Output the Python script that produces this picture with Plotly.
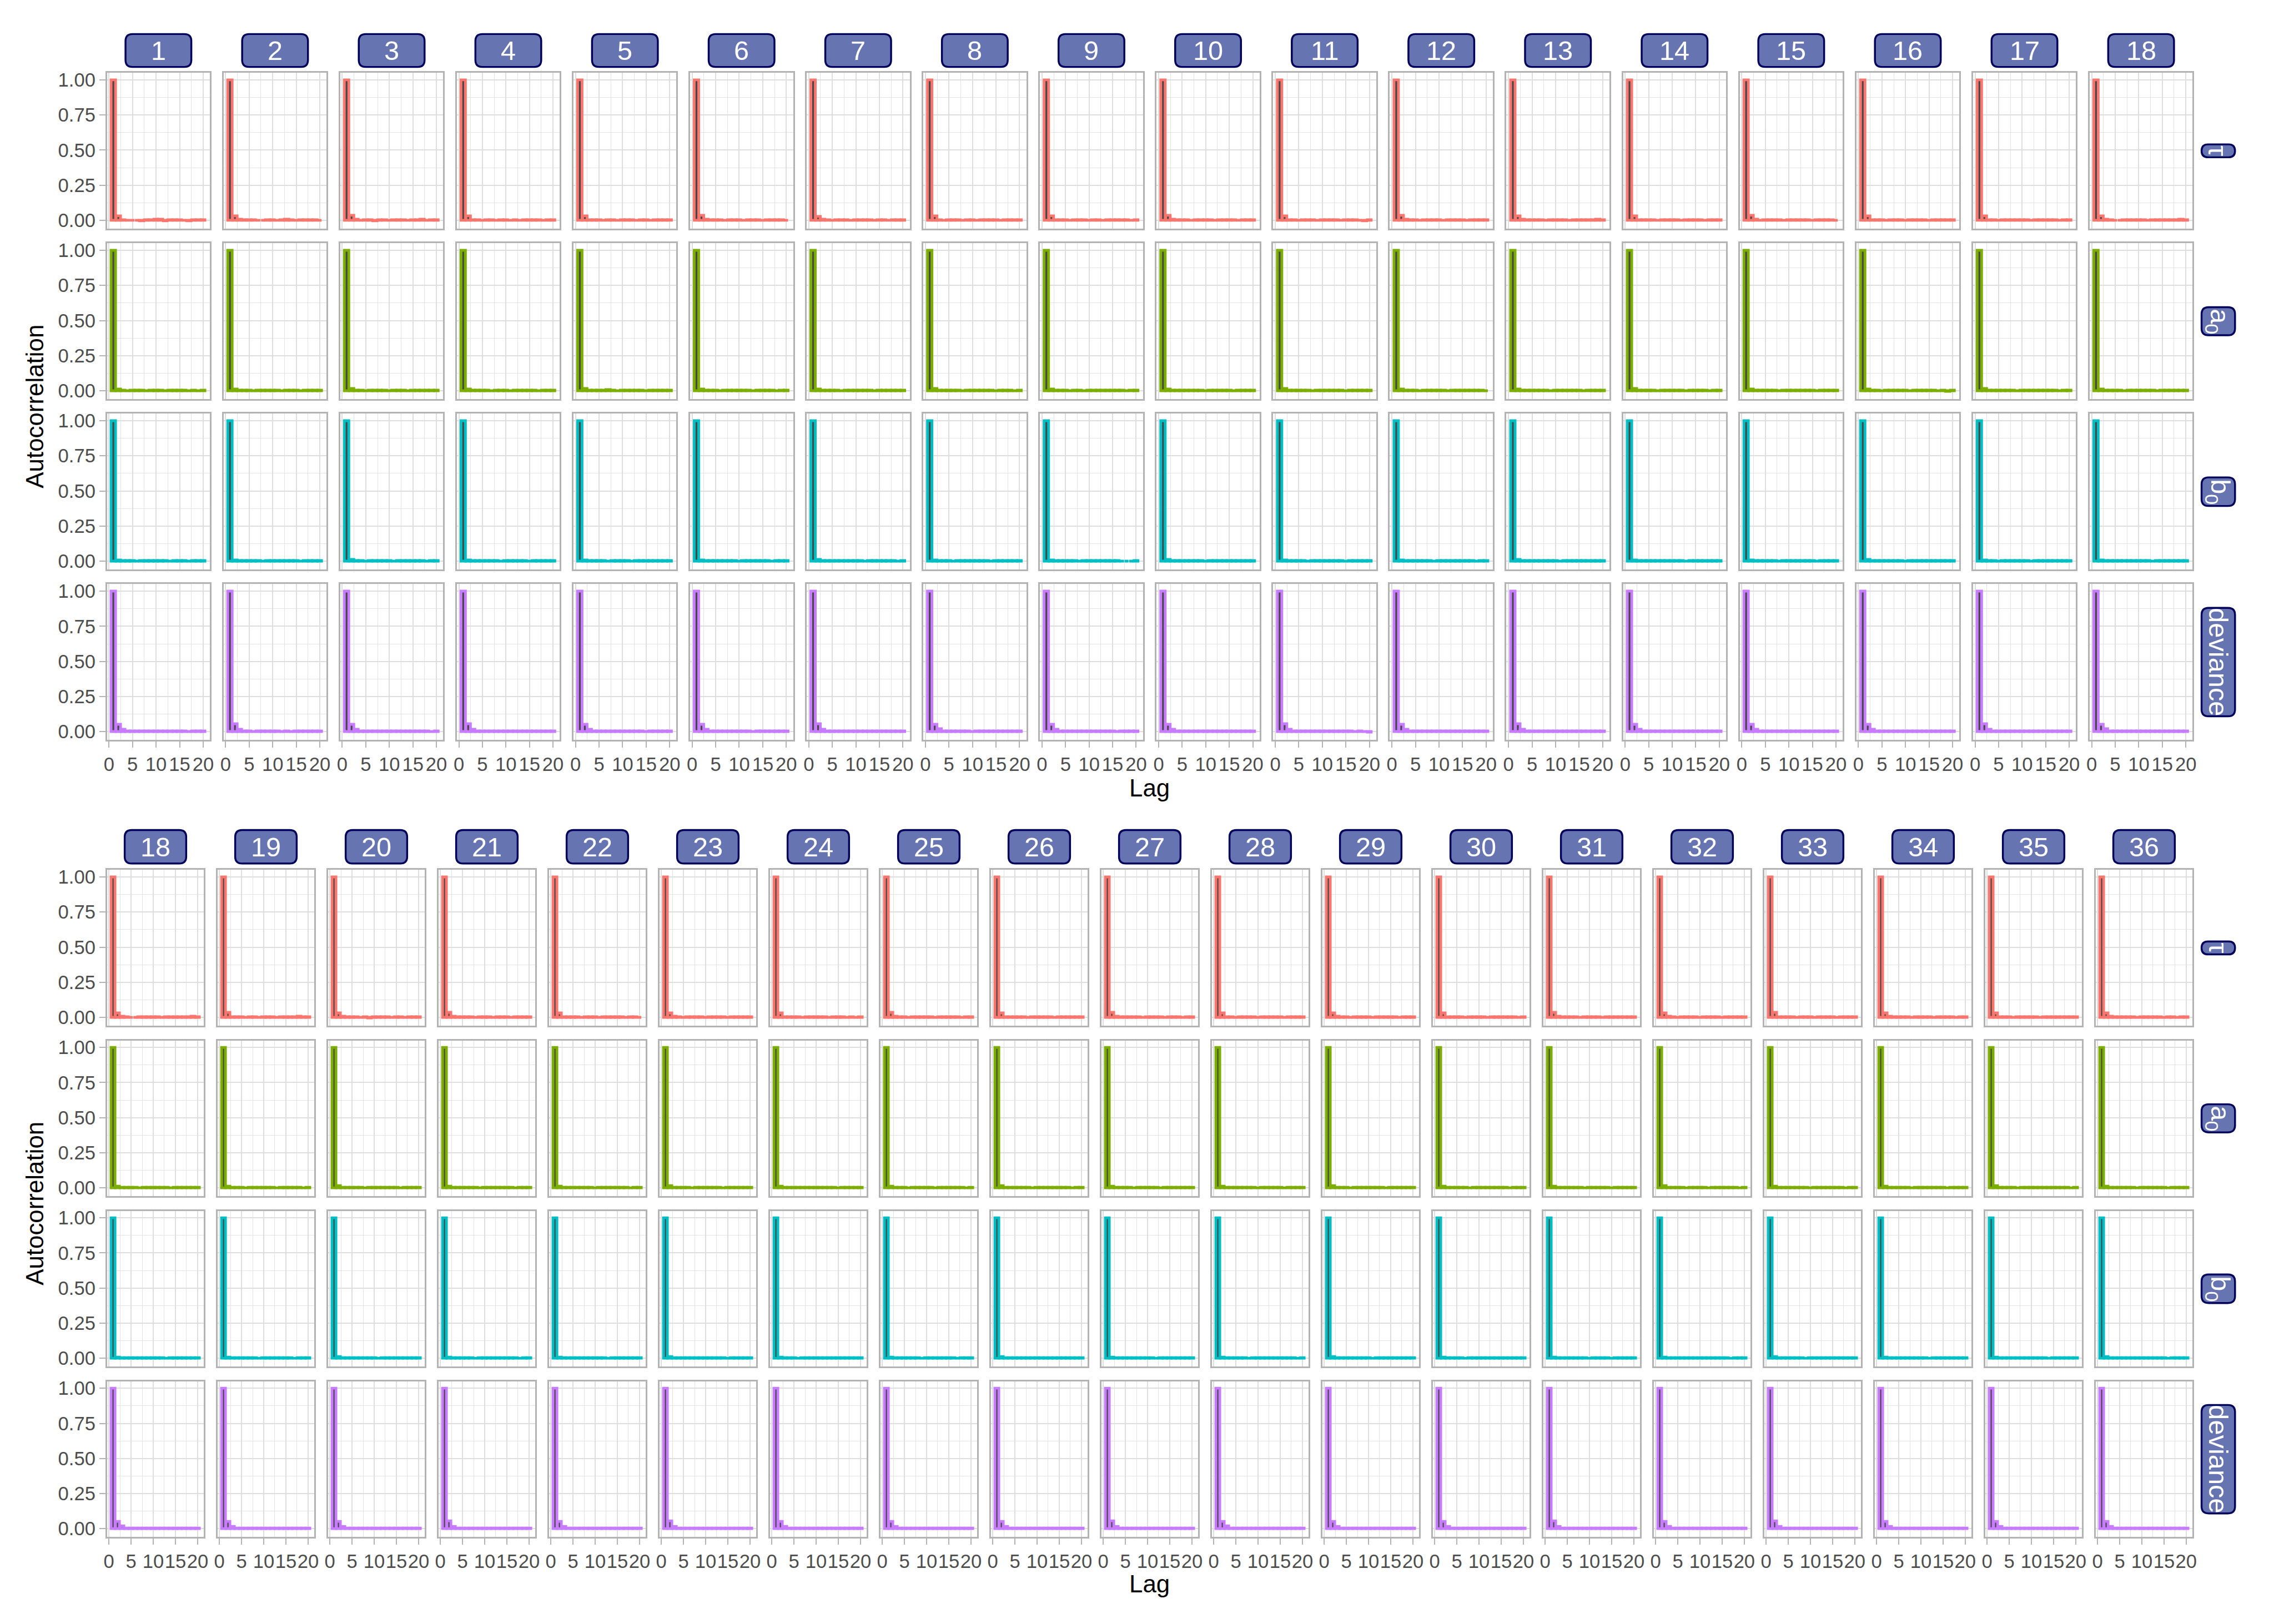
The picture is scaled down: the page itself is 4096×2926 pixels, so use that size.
import plotly.graph_objects as go

S = 0.975
W, H = 4096, 2926

lags = list(range(1, 21))
param_labels = ["τ", "a<sub>0</sub>", "b<sub>0</sub>", "deviance"]
param_colors = ["#F8766D", "#7CAE00", "#00BFC4", "#C77CFF"]
top_chains = list(range(1, 19))
bottom_chains = list(range(18, 37))
x_range = [-0.445, 21.445]
y_range = [-0.06, 1.05]

# autocorrelation per chain (index 0 = chain 1), lags 1..20
acf_tau = [
    [1,.032,.004,-.003,-.002,-.002,-.006,.001,.002,.008,.006,-.004,.001,.002,.003,-.001,-.007,.003,.002,.001],
    [1,.030,.006,.002,.001,.003,-.002,-.001,.004,.001,-.002,.003,.005,.002,-.001,.004,.003,.002,.001,-.001],
    [1,.034,.005,-.002,.001,.002,-.004,.003,.001,-.003,.002,.004,.001,-.002,.003,.001,.005,-.001,.002,.003],
    [1,.029,.003,.001,-.003,.002,.001,-.002,.003,.004,-.001,.002,-.003,.001,.002,.004,.001,-.002,.001,.002],
    [1,.031,.004,.002,.001,-.002,.003,.001,-.001,.002,.003,.001,-.002,.004,.002,-.001,.001,.003,.002,.001],
    [1,.033,.006,.001,.003,.002,-.001,.002,.004,.001,-.002,.001,.003,.002,-.003,.001,.002,.004,.001,-.002],
    [1,.028,.005,.002,-.001,.003,.001,.002,-.002,.003,.001,.004,.002,-.001,.002,.001,-.002,.003,.002,.001],
    [1,.030,.004,-.001,.002,.001,.003,-.002,.001,.002,-.003,.001,.002,.003,.001,-.001,.002,.001,.003,.002],
    [1,.032,.003,.002,.001,-.002,.001,.004,.002,-.001,.002,.003,-.002,.001,.002,.003,.001,.002,-.001,.001],
    [1,.035,.005,.001,.002,.003,-.002,.001,.003,.002,.001,-.003,.002,.004,.001,.002,-.001,.002,.001,.003],
    [1,.031,.004,.002,-.002,.001,.003,.002,-.001,.001,.004,.002,.001,-.002,.003,.001,.002,-.003,-.004,.001],
    [1,.033,.006,.003,.001,-.001,.002,.004,.001,.002,-.002,.001,.003,.002,.001,-.002,.003,.001,.002,.001],
    [1,.030,.005,.001,.003,.002,.001,-.002,.004,.001,.002,.003,-.001,.002,.001,.003,.002,.004,.006,.002],
    [1,.029,.004,.002,.001,.003,-.001,.002,.001,.003,.002,-.002,.001,.002,.003,.001,-.001,.002,.001,.002],
    [1,.034,.005,-.001,.002,.001,.002,.003,-.002,.001,.002,.001,.004,.002,-.001,.002,.001,.003,.002,-.001],
    [1,.031,.003,.002,.003,-.002,.001,.002,.001,-.001,.003,.002,.001,.002,-.002,.001,.003,.002,.001,.002],
    [1,.032,.004,.001,-.001,.002,.003,.001,.002,.004,.001,-.002,.002,.001,.003,.002,.004,-.001,.002,.001],
    [1,.030,.005,.002,-.002,-.003,.001,.002,.001,.003,.002,-.001,.002,.003,.001,.002,.003,.002,.005,.002],
    [1,.033,.004,.001,.002,-.001,.003,.002,-.002,.001,.003,.001,-.003,.002,.001,.002,.004,.006,.003,.002],
    [1,.031,.005,.002,.001,.003,-.002,.001,-.004,.002,.004,.001,.002,-.001,.003,.001,-.002,.001,.002,.001],
    [1,.034,.006,.003,.002,.001,.003,-.002,.001,.002,.001,-.003,.002,.001,.003,-.001,.002,.001,.003,.002],
    [1,.029,.004,.001,.003,.002,-.001,.002,.003,.001,-.002,.001,.004,.002,.001,.002,-.001,.003,.001,-.002],
    [1,.032,.005,.002,-.001,.001,.002,.003,.001,-.002,.002,.001,.003,.002,-.001,.001,.002,.004,.002,.001],
    [1,.030,.004,.003,.001,.002,-.002,.001,.002,.003,.001,.002,-.001,.001,.003,.002,-.002,.001,-.003,.002],
    [1,.033,.005,.001,.002,-.001,.003,.002,.001,.004,.002,-.002,.001,.002,.001,.003,.002,-.001,.002,.001],
    [1,.031,.003,.002,.001,.003,.001,-.002,.002,.001,.003,.002,.001,-.002,.002,.004,.001,.002,.001,.003],
    [1,.035,.006,.002,.003,.001,.002,.001,-.002,.003,.002,.001,.003,-.001,.002,.001,.002,-.003,.001,.002],
    [1,.030,.004,.001,-.002,.002,.001,.003,.002,-.001,.001,.002,.004,.001,.002,-.002,.001,.002,.003,.001],
    [1,.032,.005,.003,.001,-.002,.002,.001,.003,.002,-.001,.002,.001,.003,.002,.001,-.002,.001,.002,.003],
    [1,.031,.004,.002,.001,.002,-.001,.003,.001,.002,.003,-.002,.001,.002,.001,.003,.002,.001,-.001,.002],
    [1,.034,.006,.001,.002,.003,.001,-.002,.002,.001,.004,.002,-.001,.002,.003,.001,.002,.001,.003,.001],
    [1,.029,.005,.002,-.001,.001,.003,.002,.001,-.002,.002,.001,.003,.001,-.003,.002,.001,.004,.002,.001],
    [1,.033,.004,.001,.002,.001,-.002,.003,.002,.001,-.001,.003,.002,.001,.002,-.002,.001,.002,.004,.002],
    [1,.030,.005,.003,.001,.002,.001,-.001,.002,.004,.001,.002,-.002,.001,.003,.002,.001,-.001,.002,.001],
    [1,.032,.004,.002,.003,-.001,.002,.001,.003,.002,.001,-.003,.002,.001,.002,.004,.001,.002,.001,.002],
    [1,.031,.006,.001,.002,.001,.003,.002,-.002,.001,.004,.002,.001,.002,-.003,.001,.002,-.002,.001,.002],
]

acf_a0 = [
    [1,.012,.002,-.001,.001,.002,.003,-.002,.001,.002,.001,-.001,.002,.001,.003,.001,-.002,.001,-.003,.001],
    [1,.011,.003,.002,.001,-.001,.002,.001,.003,.001,.002,-.001,.001,.002,.001,-.002,.001,.002,.001,.002],
    [1,.013,.001,.002,-.002,.001,.002,.003,.001,-.001,.002,.001,.002,-.001,.001,.002,.003,.001,.002,.001],
    [1,.010,.002,.001,.002,.003,-.001,.001,.002,.001,-.002,.002,.001,.003,.001,.002,-.001,.001,.002,.001],
    [1,.014,.003,.001,.002,.004,.006,.002,-.001,.001,.002,.001,.003,.001,-.002,.001,.002,.001,.001,.002],
    [1,.012,.002,.003,.001,-.002,.001,.002,.001,.003,.002,.001,-.001,.002,.001,.002,.001,-.002,.001,.002],
    [1,.011,.004,.002,.001,.002,-.001,.003,.001,.002,.001,.002,.001,-.002,.002,.001,.003,.001,.002,.001],
    [1,.013,.002,.001,.003,.001,.002,-.001,.002,.001,.003,.001,.002,.001,-.001,.002,.001,.002,-.002,.001],
    [1,.012,.001,.002,.001,-.002,.001,.002,-.003,.001,.002,.001,.002,.001,.003,.001,.002,-.001,.001,.002],
    [1,.010,.003,.001,.002,.001,.003,.001,.002,-.001,.001,.002,.001,.003,.001,-.002,.001,.002,.001,.001],
    [1,.014,.002,.003,.001,.002,.001,-.001,.002,.001,.002,.004,.001,.002,-.001,.001,.002,.001,.002,.001],
    [1,.012,.003,.001,.002,-.001,.002,.001,.003,.002,.001,-.002,.001,.002,.001,.003,.001,.002,.001,-.001],
    [1,.011,.002,.002,.001,.003,.001,.002,-.002,.001,.002,.001,.003,.001,.002,-.001,.002,.001,.003,.001],
    [1,.013,.001,.003,.002,.001,-.001,.002,.001,.002,.001,.003,-.001,.002,.001,.002,.001,-.002,.001,.002],
    [1,.012,.003,.001,.002,.001,.002,-.002,.001,.003,.002,.001,.002,.004,.001,-.001,.002,.001,.002,.001],
    [1,.011,.002,.002,-.001,.002,.001,.003,.002,.001,-.001,.002,.001,.002,.001,.003,-.002,.004,-.006,.001],
    [1,.013,.003,.001,.002,.001,.003,.001,-.001,.002,.001,.002,.003,.001,.002,.001,.001,-.002,.001,.002],
    [1,.012,.002,.003,.001,.002,-.001,.001,.002,.001,.003,.001,.002,-.001,.001,.002,.001,.002,.001,.001],
    [1,.011,.002,.001,.002,-.001,.001,.002,.001,.003,.001,.002,-.002,.001,.002,.001,.003,.001,-.001,.001],
    [1,.013,.003,.002,.001,.002,.001,-.002,.002,.001,.002,.001,.003,.002,.001,-.001,.002,.001,.002,.001],
    [1,.012,.001,.002,.003,.001,.002,.001,-.001,.002,.001,.003,.001,.002,.001,.002,-.002,.001,.002,.003],
    [1,.010,.002,.001,.002,.003,.001,.002,.001,-.002,.002,.001,.002,.001,.003,.001,.002,-.001,.001,.002],
    [1,.014,.003,.002,.001,.002,-.001,.001,.003,.002,.001,.002,.001,-.002,.001,.002,.001,.003,.002,.001],
    [1,.012,.002,.001,.003,.001,.002,.001,.002,.001,.004,.002,.001,.002,-.001,.001,.002,.001,.002,.001],
    [1,.011,.003,.002,.001,-.002,.001,.003,.001,.002,.001,-.001,.002,.001,.002,.003,.001,.002,-.001,.002],
    [1,.013,.002,.001,.002,.001,.003,.002,-.001,.001,.002,.001,.002,.003,.001,.002,.001,-.002,.001,.001],
    [1,.012,.001,.003,.002,.001,-.001,.002,.001,.003,.002,.001,-.002,.001,.002,.001,.003,.001,.002,.002],
    [1,.011,.003,.001,.002,.003,.002,.001,.002,-.001,.001,.002,.001,.002,.001,-.001,.002,.003,.001,.001],
    [1,.013,.002,.002,.001,-.001,.002,.001,.003,.001,.002,.001,.002,-.002,.001,.002,.001,.002,.001,.002],
    [1,.012,.003,.001,.002,.001,.001,-.002,.002,.001,.003,.002,.001,.002,.001,.003,-.001,.001,.002,.001],
    [1,.010,.002,.003,.001,.002,.003,.001,-.001,.002,.001,.002,.003,.001,-.002,.001,.002,.001,.001,.002],
    [1,.014,.001,.002,.002,.001,-.002,.002,.001,.002,.001,-.001,.002,.001,.003,.002,.001,.002,-.001,.001],
    [1,.012,.003,.001,.003,.002,.001,.002,.001,-.002,.002,.001,.001,.003,.002,.001,.002,-.001,.002,.001],
    [1,.011,.002,.002,.001,.003,.002,-.001,.002,.001,.002,.003,.001,.002,.001,-.002,.001,.002,.001,.002],
    [1,.013,.003,.001,.002,.001,-.001,.002,.003,.001,.002,.001,.002,.001,.003,.001,.002,.001,-.002,.001],
    [1,.012,.002,.003,.001,.002,.001,.002,-.002,.001,.003,.001,.002,.001,.002,-.001,.001,.002,.001,.002],
]

acf_b0 = [
    [1,.008,.002,.001,.002,-.001,.001,.002,.001,.003,.001,.002,-.001,.001,.002,.001,-.002,.001,.002,.001],
    [1,.007,.001,.002,.001,.002,.001,-.001,.002,.001,.002,.001,.003,.001,.002,-.001,.001,.002,.001,.002],
    [1,.009,.002,.001,-.001,.002,.001,.002,.001,.002,-.001,.001,.002,.003,.001,.002,.001,-.001,.002,.001],
    [1,.008,.003,.002,.001,.001,.002,.001,-.002,.001,.002,.001,.002,.001,-.001,.002,.001,.002,.001,.002],
    [1,.006,.002,.001,.002,.003,-.001,.002,.001,.002,.001,-.002,.001,.002,.001,.003,.001,.002,.001,.001],
    [1,.008,.001,.002,.001,.002,.001,.003,.001,-.001,.002,.001,.002,.001,.002,.001,-.001,.002,.003,.001],
    [1,.009,.002,.001,.003,.001,.002,.001,.002,.001,.003,-.001,.002,.001,.002,.001,.002,.001,-.002,.001],
    [1,.007,.003,.001,.002,-.001,.002,.001,.001,.002,.001,.002,.001,-.002,.001,.002,.003,.001,.002,.001],
    [1,.008,.002,.002,.001,.002,.001,-.001,.002,.001,.002,.001,.002,.001,.003,.001,-.002,-.003,-.002,.001],
    [1,.009,.001,.002,.002,.001,.003,.001,.002,-.001,.001,.002,.001,.002,.001,.002,.001,.002,.001,.002],
    [1,.007,.002,.001,.002,.001,-.002,.002,.001,.002,.003,.001,.002,.001,-.001,.001,.002,.001,.002,.001],
    [1,.008,.003,.002,.001,.002,.001,.002,-.001,.001,.002,.001,.002,.003,.001,.002,.001,-.001,.001,.002],
    [1,.009,.002,.001,.002,.001,.002,.001,.002,.001,-.001,.002,.001,.002,.001,.002,.003,.001,.002,.001],
    [1,.007,.001,.002,.001,.003,.001,.002,.001,.002,.001,.002,-.001,.001,.002,.001,.002,.001,.001,.002],
    [1,.008,.002,.001,.002,.001,.002,-.001,.002,.003,.001,.002,.001,.002,.001,-.002,.001,.002,.001,.001],
    [1,.009,.003,.002,.001,.002,.001,.002,.001,-.001,.002,.001,.002,.001,.003,.001,.002,.001,.002,.001],
    [1,.008,.002,.001,-.001,.002,.001,.003,.001,.002,.001,-.001,.002,.001,.002,.001,.002,.003,.001,.002],
    [1,.007,.001,.002,.001,.002,.003,.001,.002,.001,.002,.001,-.001,.002,.001,.002,.001,.002,.001,.001],
    [1,.008,.002,.001,.002,.001,.002,.001,-.001,.002,.001,.003,.002,.001,.002,.001,-.001,.001,.002,.001],
    [1,.009,.002,.002,.001,.003,.001,.002,.001,.002,-.001,.001,.002,.001,.002,.001,.002,.001,.001,.002],
    [1,.007,.003,.001,.002,.001,.002,-.002,.001,.002,.001,.002,.001,.003,.001,.002,.001,-.001,.002,.001],
    [1,.008,.001,.002,.001,.002,.001,.002,.003,.001,.002,.001,-.001,.001,.002,.001,.002,.001,.002,.001],
    [1,.009,.002,.001,.003,.001,.002,.001,.002,.001,.002,.001,.002,.001,-.001,.002,.001,.002,.001,.002],
    [1,.007,.002,.002,.001,-.001,.001,.002,.001,.003,.001,.002,.001,.002,.001,.002,.001,.003,.001,.001],
    [1,.008,.003,.001,.002,.001,.003,.001,-.001,.002,.001,.002,.001,.001,.002,.001,-.001,.002,.001,.002],
    [1,.009,.001,.002,.001,.002,.001,.002,.001,.002,.003,.001,.002,.001,.002,.001,.002,.001,.002,.001],
    [1,.008,.002,.001,.002,.003,.002,.001,.002,.001,.002,-.001,.001,.002,.001,.003,.001,.002,.001,.001],
    [1,.007,.002,.002,.001,.002,.001,-.001,.002,.001,.002,.001,.002,.001,.003,.001,.002,.001,-.001,.002],
    [1,.009,.003,.001,.002,.001,.002,.001,.003,.001,-.001,.002,.001,.002,.001,.002,.001,.002,.001,.001],
    [1,.008,.001,.002,.001,.002,-.001,.002,.001,.002,.001,.002,.003,.001,.002,.001,.002,.001,.002,.001],
    [1,.007,.002,.001,.002,.001,.002,.001,.002,-.001,.002,.001,.002,.001,-.001,.002,.001,.003,.001,.002],
    [1,.008,.002,.002,.001,.003,.001,.002,.001,.002,.001,.002,.001,.002,.001,.002,-.001,.001,.002,.001],
    [1,.009,.003,.001,.002,.001,.002,.001,-.002,.001,.002,.001,.002,.001,.002,.001,.002,.001,.001,.002],
    [1,.007,.001,.002,.001,.002,.001,.003,.001,.002,.001,-.001,.002,.001,.002,.001,.002,.001,.002,.001],
    [1,.008,.002,.001,.002,.001,.002,.001,.002,.001,.003,.001,.002,-.001,.001,.002,.001,.002,.001,.001],
    [1,.009,.002,.002,.001,.002,.001,.002,.001,.002,.001,.002,.001,.002,.001,-.001,.002,.001,.002,.001],
]

acf_dev = [
    [1,.050,.015,.003,.002,.001,.004,.002,.001,.002,.001,.003,.002,.003,.001,.002,-.001,.001,.002,.001],
    [1,.052,.016,.004,.001,-.002,.002,.001,.002,.003,.001,-.002,.002,-.002,.001,.003,.002,.001,.002,.002],
    [1,.049,.014,.002,.001,.002,.001,.003,.002,.001,.002,.001,.003,.001,.002,.001,.002,.001,-.002,.001],
    [1,.053,.015,.003,.002,.001,.002,.001,.001,.002,.003,.001,.002,.001,.002,.001,.003,.001,.002,.001],
    [1,.051,.014,.004,.002,.001,.003,.002,.001,.002,.001,.002,.001,.002,-.001,.002,.001,.002,.001,.002],
    [1,.050,.016,.003,.001,.002,.001,.002,.003,.001,.002,.001,-.002,.001,.002,.003,.001,.002,.001,.001],
    [1,.052,.015,.002,.003,.001,.002,.001,.002,.001,.002,.003,.001,.002,.001,.002,.001,.001,.002,.002],
    [1,.048,.017,.003,.002,.001,.002,.003,.001,-.001,.002,.001,.002,.001,.003,.001,.002,.001,.002,.001],
    [1,.051,.015,.004,.001,.002,.001,.002,.001,.002,.001,.002,.003,.001,.002,-.001,.001,.002,.001,.002],
    [1,.050,.016,.002,.002,.001,.003,.001,.002,.001,.002,.001,.002,.001,.002,.001,.002,.003,.001,.001],
    [1,.053,.014,.003,.001,.002,.001,.002,.001,.003,.001,.002,.001,.002,.001,.002,-.002,.001,-.003,-.004],
    [1,.049,.015,.003,.002,.001,.002,.001,.003,.001,.002,.001,.002,.003,.001,.002,.001,.002,.001,.002],
    [1,.052,.016,.002,.001,.002,.001,.002,.001,.002,.003,.001,.001,.002,.001,.002,.001,.002,.001,.001],
    [1,.050,.015,.004,.002,.001,.002,.001,.002,.001,.002,.001,.002,.001,.003,.001,.002,.001,.002,.001],
    [1,.051,.014,.003,.001,.003,.001,.002,.001,.002,.001,.003,.001,.002,.001,.002,.001,.002,.001,.002],
    [1,.048,.016,.002,.002,.001,.002,.001,.002,.003,.001,.002,.001,.002,.001,.001,.002,.001,.002,.001],
    [1,.052,.015,.003,.001,.002,.001,.003,.001,.002,.001,.002,.001,.002,.003,.001,.002,.001,.001,.002],
    [1,.050,.017,.003,.002,.001,.002,.001,.002,.001,.002,.001,.003,.001,.002,.001,.002,.001,.002,.001],
    [1,.051,.015,.002,.001,.002,.001,.002,.001,.002,.003,.001,.002,.001,.002,.001,.002,.003,.001,.002],
    [1,.049,.016,.004,.002,.001,.002,.001,.003,.001,.002,.001,.002,.001,.002,.001,.001,.002,.001,.001],
    [1,.053,.014,.003,.001,.002,.001,.002,.001,.002,.001,.002,.001,.003,.001,.002,.001,.002,.001,.002],
    [1,.050,.015,.002,.002,.001,.003,.001,.002,.001,.002,.001,.002,.001,.002,.003,.001,.001,.002,.001],
    [1,.052,.016,.003,.001,.002,.001,.002,.001,.003,.001,.002,.001,.002,.001,.002,.001,.002,.001,.002],
    [1,.048,.015,.003,.002,.001,.002,.001,.002,.001,.002,.003,.001,.002,.001,.001,.002,.001,.002,.001],
    [1,.051,.014,.002,.001,.002,.001,.003,.001,.002,.001,.002,.001,.002,.001,.002,.003,.001,.002,.001],
    [1,.050,.016,.004,.002,.001,.002,.001,.002,.001,.002,.001,.002,.003,.001,.002,.001,.002,.001,.001],
    [1,.052,.015,.003,.001,.003,.001,.002,.001,.002,.001,.002,.001,.002,.001,.002,.001,.002,.001,.002],
    [1,.049,.017,.002,.002,.001,.002,.001,.003,.001,.002,.001,.002,.001,.002,.001,.002,.001,.002,.001],
    [1,.051,.015,.003,.001,.002,.001,.002,.001,.002,.003,.001,.002,.001,.002,.001,.002,.001,.001,.002],
    [1,.050,.016,.003,.002,.001,.002,.001,.002,.001,.002,.001,.002,.001,.003,.001,.002,.001,.002,.001],
    [1,.053,.014,.002,.001,.002,.001,.002,.001,.002,.001,.002,.001,.002,.001,.002,.001,.002,.001,.002],
    [1,.050,.015,.004,.002,.001,.003,.001,.002,.001,.002,.001,.002,.001,.002,.001,.002,.001,.002,.001],
    [1,.052,.016,.003,.001,.002,.001,.002,.001,.003,.001,.002,.001,.002,.001,.002,.001,.002,.001,.001],
    [1,.049,.015,.002,.002,.001,.002,.001,.002,.001,.002,.001,.003,.001,.002,.001,.002,.001,.002,.002],
    [1,.051,.016,.003,.001,.002,.001,.002,.001,.002,.001,.002,.001,.002,.001,.003,.001,.002,.001,.001],
    [1,.050,.015,.003,.002,.001,.002,.001,.002,.001,.002,.001,.002,.001,.002,.001,.002,.001,.002,.002],
]

acf_all = [acf_tau, acf_a0, acf_b0, acf_dev]

FONT = "Liberation Sans, Arial, Helvetica, sans-serif"
STRIP_FILL = "#6674B2"
STRIP_LINE = "#00005A"


def px(x):
    return x * S / W


def py(y):
    return 1 - y * S / H


def rrect_path(x0, y0, x1, y1, r):
    r = min(r, (x1 - x0) / 2, (y1 - y0) / 2)
    pts = [
        ("M", [(x0 + r, y0)]), ("L", [(x1 - r, y0)]), ("Q", [(x1, y0), (x1, y0 + r)]),
        ("L", [(x1, y1 - r)]), ("Q", [(x1, y1), (x1 - r, y1)]), ("L", [(x0 + r, y1)]),
        ("Q", [(x0, y1), (x0, y1 - r)]), ("L", [(x0, y0 + r)]), ("Q", [(x0, y0), (x0 + r, y0)]),
    ]
    s = ""
    for cmd, ps in pts:
        s += cmd + " " + " ".join(f"{px(a):.6f},{py(b):.6f}" for a, b in ps) + " "
    return s + "Z"


blocks = [
    dict(chains=top_chains, left=192, pitch=216.2, pw=191, top=129, rpitch=316, ph=289,
         strip_y=(57, 118), strip_w=122, lag_y=1455),
    dict(chains=bottom_chains, left=192, pitch=204.8, pw=180, top=1607, rpitch=316, ph=289,
         strip_y=(1533, 1595), strip_w=114, lag_y=2931),
]
right_strip_x = (4075, 4137)
right_strip_len = [24, 52, 53, 201]

fig = go.Figure()
layout = dict(
    width=W, height=H, autosize=False,
    margin=dict(l=0, r=0, t=0, b=0),
    paper_bgcolor="white", plot_bgcolor="white",
    showlegend=False, bargap=0,
)
shapes = []
annotations = []
tickfont = dict(family=FONT, size=35.5 * S, color="#4d4d4d")

k = 0
for b in blocks:
    for i in range(4):
        ytop = b["top"] + i * b["rpitch"]
        ybot = ytop + b["ph"]
        for j, ch in enumerate(b["chains"]):
            k += 1
            xl = b["left"] + j * b["pitch"]
            xr = xl + b["pw"]
            suf = "" if k == 1 else str(k)
            fig.add_trace(go.Bar(
                x=lags, y=acf_all[i][ch - 1], width=0.9,
                marker=dict(color="#474747", line=dict(color=param_colors[i], width=5.0 * S)),
                xaxis="x" + suf, yaxis="y" + suf, hoverinfo="skip", showlegend=False,
            ))
            bottom = i == 3
            left = j == 0
            layout["xaxis" + suf] = dict(
                domain=[px(xl), px(xr)], range=x_range, anchor="y" + suf,
                tickmode="linear", tick0=0, dtick=5, tickangle=0,
                showticklabels=bottom, ticks="outside" if bottom else "",
                ticklen=11 * S, tickwidth=2.2 * S, tickcolor="#b3b3b3", tickfont=tickfont,
                showgrid=True, gridcolor="#dedede", gridwidth=2.2 * S,
                minor=dict(tick0=0, dtick=2.5, showgrid=True, gridcolor="#e3e3e3", gridwidth=1.4 * S),
                showline=True, mirror=True, linecolor="#b3b3b3", linewidth=3 * S,
                zeroline=False, fixedrange=True,
            )
            layout["yaxis" + suf] = dict(
                domain=[py(ybot), py(ytop)], range=y_range, anchor="x" + suf,
                tickmode="linear", tick0=0, dtick=0.25, tickformat=".2f", tickangle=0,
                showticklabels=left, ticks="outside" if left else "",
                ticklen=11 * S, tickwidth=2.2 * S, tickcolor="#b3b3b3", tickfont=tickfont,
                showgrid=True, gridcolor="#dedede", gridwidth=2.2 * S,
                minor=dict(tick0=0, dtick=0.125, showgrid=True, gridcolor="#e3e3e3", gridwidth=1.4 * S),
                showline=True, mirror=True, linecolor="#b3b3b3", linewidth=3 * S,
                zeroline=False, fixedrange=True,
            )
            if i == 0:
                cx = (xl + xr) / 2
                sy0, sy1 = b["strip_y"]
                shapes.append(dict(
                    type="path", xref="paper", yref="paper",
                    path=rrect_path(cx - b["strip_w"] / 2, sy0, cx + b["strip_w"] / 2, sy1, 13),
                    fillcolor=STRIP_FILL, line=dict(color=STRIP_LINE, width=3.5 * S), layer="above",
                ))
                annotations.append(dict(
                    x=px(cx), y=py((sy0 + sy1) / 2), xref="paper", yref="paper",
                    text=str(ch), showarrow=False, xanchor="center", yanchor="middle",
                    font=dict(family=FONT, size=50 * S, color="white"),
                ))
        cy = (ytop + ybot) / 2
        L = right_strip_len[i]
        rx0, rx1 = right_strip_x
        shapes.append(dict(
            type="path", xref="paper", yref="paper",
            path=rrect_path(rx0, cy - L / 2, rx1, cy + L / 2, 13),
            fillcolor=STRIP_FILL, line=dict(color=STRIP_LINE, width=3.5 * S), layer="above",
        ))
        annotations.append(dict(
            x=px((rx0 + rx1) / 2), y=py(cy), xref="paper", yref="paper",
            text=param_labels[i], showarrow=False, xanchor="center", yanchor="middle",
            textangle=90, font=dict(family=FONT, size=50 * S, color="white"),
        ))
    blk_top = b["top"]
    blk_bot = b["top"] + 3 * b["rpitch"] + b["ph"]
    annotations.append(dict(
        x=px((192 + 4058) / 2), y=py(b["lag_y"]), xref="paper", yref="paper",
        text="Lag", showarrow=False, xanchor="center", yanchor="middle",
        font=dict(family=FONT, size=45 * S, color="black"),
    ))
    annotations.append(dict(
        x=px(58), y=py((blk_top + blk_bot) / 2), xref="paper", yref="paper",
        text="Autocorrelation", showarrow=False, xanchor="center", yanchor="middle",
        textangle=-90, font=dict(family=FONT, size=45 * S, color="black"),
    ))

layout["shapes"] = shapes
layout["annotations"] = annotations
fig.update_layout(**layout)
fig.write_html("out.html")
